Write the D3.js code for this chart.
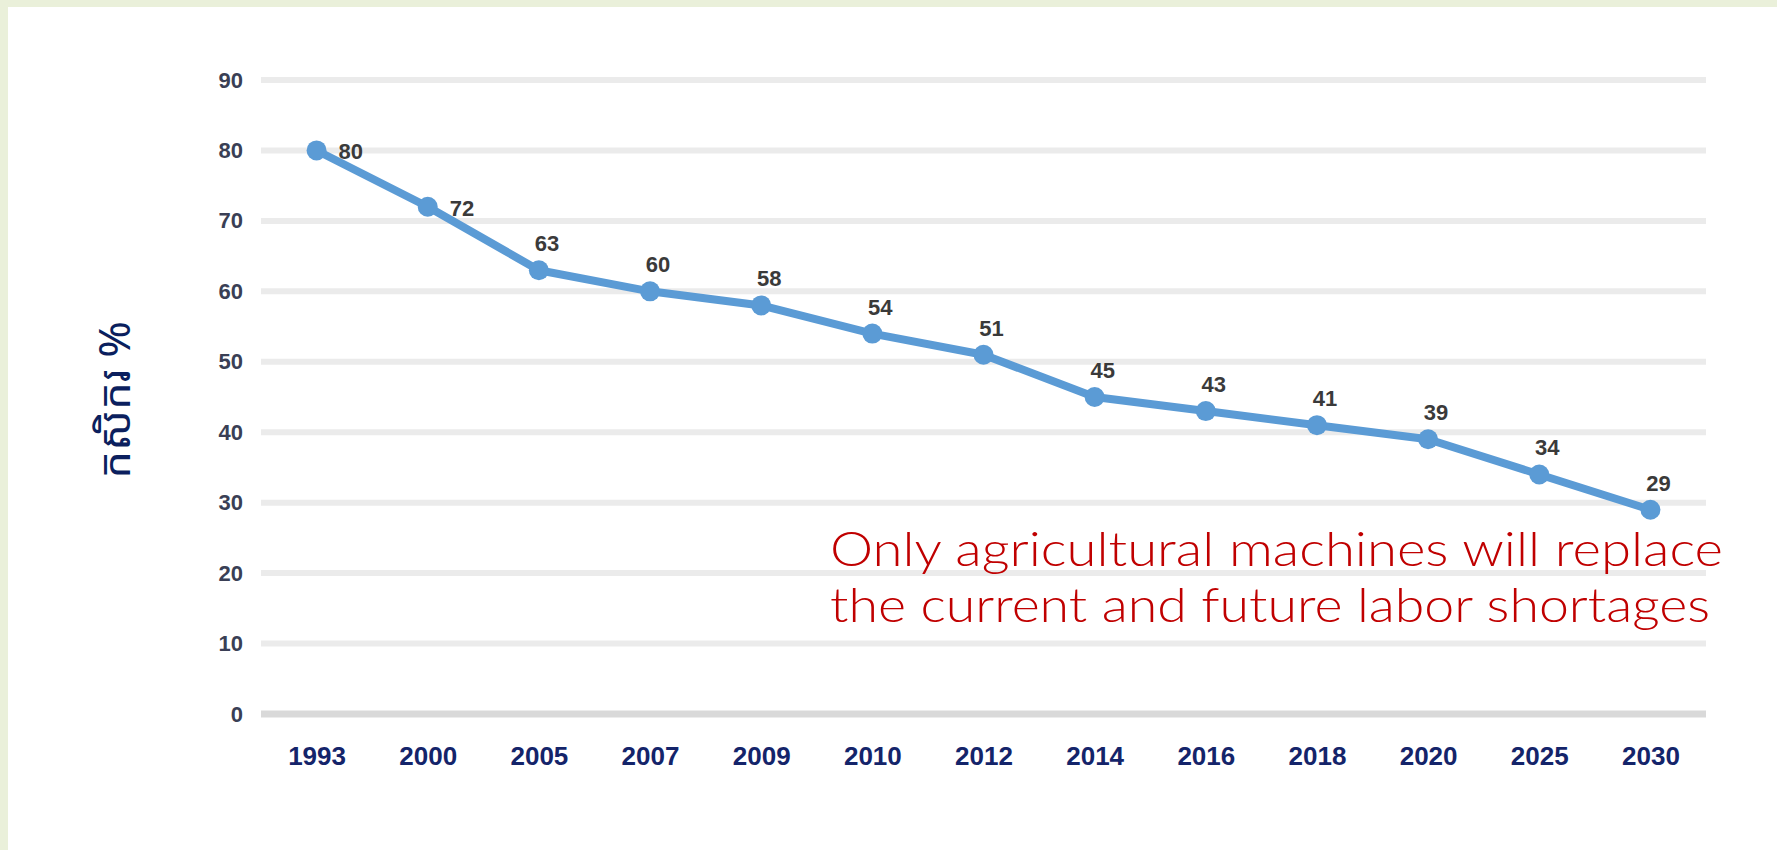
<!DOCTYPE html>
<html>
<head>
<meta charset="utf-8">
<script src="https://cdn.jsdelivr.net/npm/d3@7"></script>
<style>
  body { margin: 0; background: #eaf0da; }
  svg { display: block; }
</style>
</head>
<body>
<script>
// chart data
var years = ['1993', '2000', '2005', '2007', '2009', '2010', '2012', '2014', '2016', '2018', '2020', '2025', '2030'];
var shares = [80, 72, 63, 60, 58, 54, 51, 45, 43, 41, 39, 34, 29];
var yTicks = [0, 10, 20, 30, 40, 50, 60, 70, 80, 90];
var yTitle = 'កសិករ %';
var note = ['Only agricultural machines will replace', 'the current and future labor shortages'];

var width = 1777;
var height = 850;

var svg = d3.select('body')
    .append('svg')
    .attr('width', width)
    .attr('height', height);

// white slide area with the pale green edge left and top
svg.append('rect')
    .attr('x', 0).attr('y', 0)
    .attr('width', width).attr('height', height)
    .attr('fill', '#eaf0da');
svg.append('rect')
    .attr('x', 8).attr('y', 7)
    .attr('width', width - 8).attr('height', height - 7)
    .attr('fill', '#ffffff');

// scales
var xScale = d3.scalePoint()
    .domain(years)
    .range([261, 1706])
    .padding(0.5);

var yScale = d3.scaleLinear()
    .domain([0, 90])
    .range([714, 80]);

// gridlines
svg.selectAll('.grid')
    .data(yTicks)
    .enter()
    .append('line')
    .attr('class', 'grid')
    .attr('x1', 261)
    .attr('x2', 1706)
    .attr('y1', function(d){ return yScale(d); })
    .attr('y2', function(d){ return yScale(d); })
    .attr('stroke', function(d){ return d === 0 ? '#d9d9d9' : '#ebebeb'; })
    .attr('stroke-width', function(d){ return d === 0 ? 7 : 6; });

// y axis labels
var yAxis = d3.axisLeft(yScale)
    .tickValues(yTicks)
    .tickSize(0)
    .tickPadding(0);
var yAxisGroup = svg.append('g')
    .attr('transform', 'translate(243,0)')
    .call(yAxis);
yAxisGroup.select('.domain').remove();
yAxisGroup.selectAll('text')
    .attr('font-family', 'Liberation Sans, Arial, sans-serif')
    .attr('font-size', 22)
    .attr('font-weight', 'bold')
    .attr('fill', '#3a3f55');

// x axis labels
var xAxis = d3.axisBottom(xScale)
    .tickSize(0)
    .tickPadding(0);
var xAxisGroup = svg.append('g')
    .attr('transform', 'translate(0,746)')
    .call(xAxis);
xAxisGroup.select('.domain').remove();
xAxisGroup.selectAll('text')
    .attr('dy', '0.72em')
    .attr('font-family', 'Liberation Sans, Arial, sans-serif')
    .attr('font-size', 26)
    .attr('font-weight', 'bold')
    .attr('fill', '#14246a');

// y axis title
svg.append('text')
    .attr('transform', 'translate(130,400) rotate(-90)')
    .attr('text-anchor', 'middle')
    .attr('font-family', 'Noto Sans Khmer, Khmer OS, Noto Sans, DejaVu Sans, sans-serif')
    .attr('font-size', 44)
    .attr('fill', '#0b1f5e')
    .text(yTitle);

// line
var line = d3.line()
    .x(function(d, i){ return xScale(years[i]); })
    .y(function(d){ return yScale(d); });

svg.append('path')
    .datum(shares)
    .attr('d', line)
    .attr('fill', 'none')
    .attr('stroke', '#5b9bd5')
    .attr('stroke-width', 8)
    .attr('stroke-linejoin', 'round');

svg.selectAll('.dot')
    .data(shares)
    .enter()
    .append('circle')
    .attr('class', 'dot')
    .attr('cx', function(d, i){ return xScale(years[i]); })
    .attr('cy', function(d){ return yScale(d); })
    .attr('r', 10)
    .attr('fill', '#5b9bd5');

// data labels: first two sit right of the point, the rest above
svg.selectAll('.lbl')
    .data(shares)
    .enter()
    .append('text')
    .attr('class', 'lbl')
    .attr('x', function(d, i){ return xScale(years[i]) + (i < 2 ? 22 : 8); })
    .attr('y', function(d, i){ return yScale(d) + (i < 2 ? 9 : -19); })
    .attr('text-anchor', function(d, i){ return i < 2 ? 'start' : 'middle'; })
    .attr('font-family', 'Liberation Sans, Arial, sans-serif')
    .attr('font-size', 22)
    .attr('font-weight', 'bold')
    .attr('fill', '#3a3a3a')
    .text(function(d){ return d; });

// annotation
svg.selectAll('.note')
    .data(note)
    .enter()
    .append('text')
    .attr('class', 'note')
    .attr('x', 830)
    .attr('y', function(d, i){ return 566 + i * 56; })
    .attr('font-family', 'Lato, Open Sans, sans-serif')
    .attr('font-size', 48)
    .attr('font-weight', 300)
    .attr('fill', '#c00000')
    .attr('textLength', function(d, i){ return i === 0 ? 893 : 880; })
    .attr('lengthAdjust', 'spacingAndGlyphs')
    .text(function(d){ return d; });
</script>
</body>
</html>
